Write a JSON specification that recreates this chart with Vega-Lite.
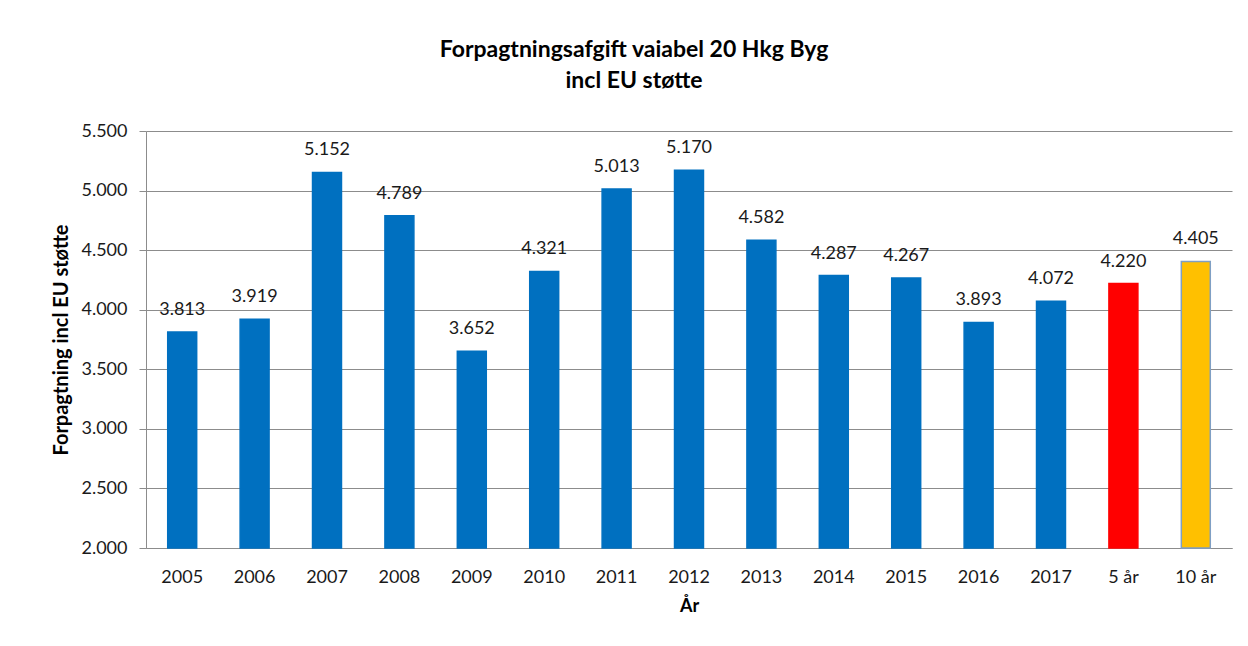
{
  "$schema": "https://vega.github.io/schema/vega-lite/v6.json",
  "width": 1086,
  "height": 417,
  "autosize": {"type": "none"},
  "padding": {"left": 146, "top": 131, "right": 16, "bottom": 98},
  "background": "white",
  "config": {
    "locale": {"number": {"decimal": ",", "thousands": ".", "grouping": [3], "currency": ["", " kr."]}},
    "font": "Lato",
    "view": {"stroke": null},
    "axis": {
      "domainColor": "#8c8c8c",
      "gridColor": "#8c8c8c",
      "tickColor": "#8c8c8c",
      "labelColor": "#1a1a1a",
      "titleColor": "#000000",
      "labelFont": "Lato",
      "titleFont": "Lato",
      "labelFontSize": 18,
      "titleFontSize": 18,
      "titleFontWeight": "bold"
    }
  },
  "title": {
    "text": ["Forpagtningsafgift vaiabel 20 Hkg Byg", "incl EU støtte"],
    "font": "Lato",
    "fontSize": 23,
    "fontWeight": "bold",
    "color": "#000000",
    "lineHeight": 31,
    "offset": 29,
    "dx": -55,
    "anchor": "middle"
  },
  "data": {
    "values": [
      {"aar": "2005", "vaerdi": 3813, "gruppe": "År"},
      {"aar": "2006", "vaerdi": 3919, "gruppe": "År"},
      {"aar": "2007", "vaerdi": 5152, "gruppe": "År"},
      {"aar": "2008", "vaerdi": 4789, "gruppe": "År"},
      {"aar": "2009", "vaerdi": 3652, "gruppe": "År"},
      {"aar": "2010", "vaerdi": 4321, "gruppe": "År"},
      {"aar": "2011", "vaerdi": 5013, "gruppe": "År"},
      {"aar": "2012", "vaerdi": 5170, "gruppe": "År"},
      {"aar": "2013", "vaerdi": 4582, "gruppe": "År"},
      {"aar": "2014", "vaerdi": 4287, "gruppe": "År"},
      {"aar": "2015", "vaerdi": 4267, "gruppe": "År"},
      {"aar": "2016", "vaerdi": 3893, "gruppe": "År"},
      {"aar": "2017", "vaerdi": 4072, "gruppe": "År"},
      {"aar": "5 år", "vaerdi": 4220, "gruppe": "5 år"},
      {"aar": "10 år", "vaerdi": 4405, "gruppe": "10 år"}
    ]
  },
  "encoding": {
    "x": {
      "field": "aar",
      "type": "nominal",
      "sort": null,
      "scale": {"paddingInner": 0.6, "paddingOuter": 0.3},
      "axis": {
        "title": "År",
        "labelAngle": 0,
        "ticks": false,
        "tickSize": 0,
        "labelPadding": 20,
        "titlePadding": 11,
        "grid": false
      }
    }
  },
  "layer": [
    {
      "mark": {"type": "bar", "strokeWidth": 1.5},
      "encoding": {
        "y": {
          "field": "vaerdi",
          "type": "quantitative",
          "scale": {"domain": [2000, 5500], "zero": false, "nice": false},
          "axis": {
            "title": "Forpagtning incl EU støtte",
            "titleFontSize": 20,
            "values": [2000, 2500, 3000, 3500, 4000, 4500, 5000, 5500],
            "format": ",.0f",
            "tickSize": 7,
            "labelPadding": 12,
            "titlePadding": 9,
            "grid": true
          }
        },
        "y2": {"datum": 2000},
        "fill": {
          "field": "gruppe",
          "type": "nominal",
          "scale": {"domain": ["År", "5 år", "10 år"], "range": ["#0070C0", "#FF0000", "#FFC000"]},
          "legend": null
        },
        "stroke": {
          "field": "gruppe",
          "type": "nominal",
          "scale": {"domain": ["År", "5 år", "10 år"], "range": ["#0070C0", "#FF0000", "#7F9FC4"]},
          "legend": null
        }
      }
    },
    {
      "mark": {"type": "text", "baseline": "alphabetic", "dy": -17, "fontSize": 18, "font": "Lato", "color": "#1a1a1a"},
      "encoding": {
        "y": {"field": "vaerdi", "type": "quantitative"},
        "text": {"field": "vaerdi", "type": "quantitative", "format": ",.0f"}
      }
    }
  ]
}
